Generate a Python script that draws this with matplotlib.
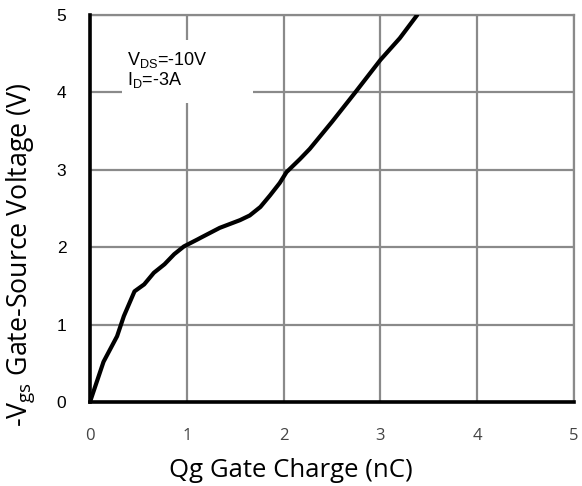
import numpy as np
import matplotlib
matplotlib.use("Agg")
from matplotlib import pyplot as plt
from matplotlib.patches import Rectangle

# gate charge curve
qg = [0.0, 0.14, 0.28, 0.35, 0.46, 0.56, 0.66, 0.77, 0.87, 0.97, 1.11,
      1.14, 1.34, 1.55, 1.65, 1.76, 1.86, 1.96, 2.03, 2.17, 2.27, 2.50,
      2.74, 3.00, 3.20, 3.38]
vgs = [0.0, 0.52, 0.85, 1.11, 1.43, 1.52, 1.67, 1.78, 1.91, 2.01, 2.10,
       2.12, 2.25, 2.35, 2.41, 2.52, 2.67, 2.83, 2.97, 3.14, 3.27, 3.62,
       4.00, 4.42, 4.70, 5.00]
xticks = [0, 1, 2, 3, 4, 5]
yticks = [0, 1, 2, 3, 4, 5]

plt.rcParams['mathtext.default'] = 'regular'

fig = plt.figure(figsize=(5.82, 4.86), dpi=100)
ax = fig.add_axes([0.1546, 0.1728, 0.8317, 0.7963])

ax.plot(qg, vgs, color="black", lw=3, solid_capstyle="round", zorder=4)

ax.set_xlim(0, 5)
ax.set_ylim(0, 5)
ax.set_xticks(xticks)
ax.set_yticks(yticks)
ax.grid(True, color="#8a8a8a", lw=1.6)
ax.set_axisbelow(True)
ax.tick_params(length=0)
ax.tick_params(axis="y", pad=17, labelsize=12.5)
ax.tick_params(axis="x", pad=19, labelsize=12, labelcolor="#444444")
for lab in ax.get_yticklabels():
    lab.set_family("Liberation Sans")
for lab in ax.get_xticklabels():
    lab.set_family("Open Sans")

for s in ["top", "right"]:
    ax.spines[s].set_color("#8a8a8a")
    ax.spines[s].set_linewidth(1.6)
for s in ["left", "bottom"]:
    ax.spines[s].set_color("black")
    ax.spines[s].set_linewidth(2.6)
    ax.spines[s].set_zorder(5)

ax.set_xlabel("Qg Gate Charge (nC)", family="Open Sans", fontsize=18.5)
ax.xaxis.set_label_coords(0.415, -0.145)
ax.set_ylabel("-V$_{gs}$ Gate-Source Voltage (V)", family="Open Sans", fontsize=19.3)
ax.yaxis.set_label_coords(-0.11, 0.38)

# white box behind the conditions text (cuts the grid lines)
ax.add_patch(Rectangle((0.066, 0.773), 0.271, 0.162, transform=ax.transAxes,
                       facecolor="white", edgecolor="none", zorder=2))
ax.text(0.38, 4.29, "V$_{DS}$=-10V\nI$_{D}$=-3A", family="Liberation Sans",
        fontsize=13, va="center", ha="left", linespacing=1.0, zorder=3)

fig.savefig("out.png", dpi=100)
